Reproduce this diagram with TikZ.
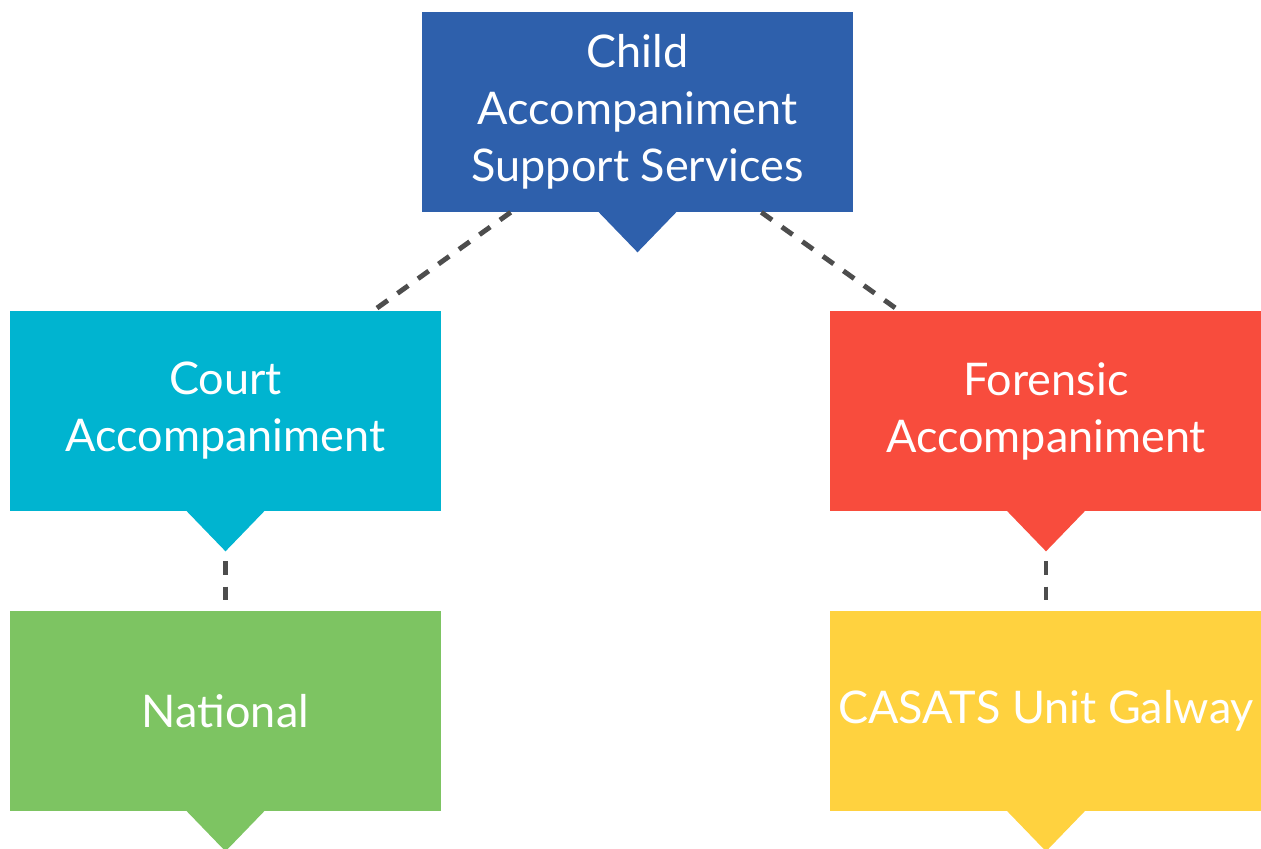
\documentclass[tikz,border=0pt]{standalone}
\usepackage{fontspec}
\setmainfont{Lato}
\usetikzlibrary{calc}

\definecolor{cssblue}{HTML}{2E60AC}
\definecolor{courtcyan}{HTML}{00B4D0}
\definecolor{forensicred}{HTML}{F84C3D}
\definecolor{nationalgreen}{HTML}{7DC462}
\definecolor{casatsyellow}{HTML}{FFD23F}
\definecolor{linkgray}{HTML}{4D4D4D}

\begin{document}
\begin{tikzpicture}[x=0.025cm,y=-0.025cm,
    box/.style={rectangle, fill=#1, text=white, minimum width=10.775cm,
      minimum height=5cm, inner sep=0pt, align=center,
      font=\fontsize{32}{40.5}\selectfont},
    link/.style={draw=linkgray, line width=3.5pt,
      dash pattern=on 0.33cm off 0.3cm}]
    \useasboundingbox (0,0) rectangle (1261,848);

    \node[box=cssblue] (css) at (637.5,112) {Child\\Accompaniment\\Support Services};
    \node[box=courtcyan] (court) at (225.5,411) {Court\\Accompaniment};
    \node[box=forensicred] (forensic) at (1046,411) {Forensic\\Accompaniment};
    \node[box=nationalgreen] (national) at (225.5,711) {National};
    \node[box=casatsyellow] (casats) at (1046,711) {CASATS Unit Galway};

    % pointers under the boxes
    \foreach \n/\c in {css/cssblue, court/courtcyan, forensic/forensicred,
                       national/nationalgreen, casats/casatsyellow}
      \fill[\c] ([xshift=-1cm,yshift=1pt]\n.south) -- ([xshift=1cm,yshift=1pt]\n.south)
        -- ([yshift=-1cm]\n.south) -- cycle;

    \path[link] ([xshift=2.225cm]css.south west) edge[shorten >=0.1cm] ([xshift=-1.7cm]court.north east);
    \path[link] ([xshift=-2.3cm]css.south east) edge[shorten >=0.1cm] ([xshift=1.725cm]forensic.north west);

    \path[link] ([yshift=-1cm]court.south) edge[shorten <=0.25cm, shorten >=0.275cm] (national.north);
    \path[link] ([yshift=-1cm]forensic.south) edge[shorten <=0.25cm, shorten >=0.275cm] (casats.north);
\end{tikzpicture}
\end{document}
